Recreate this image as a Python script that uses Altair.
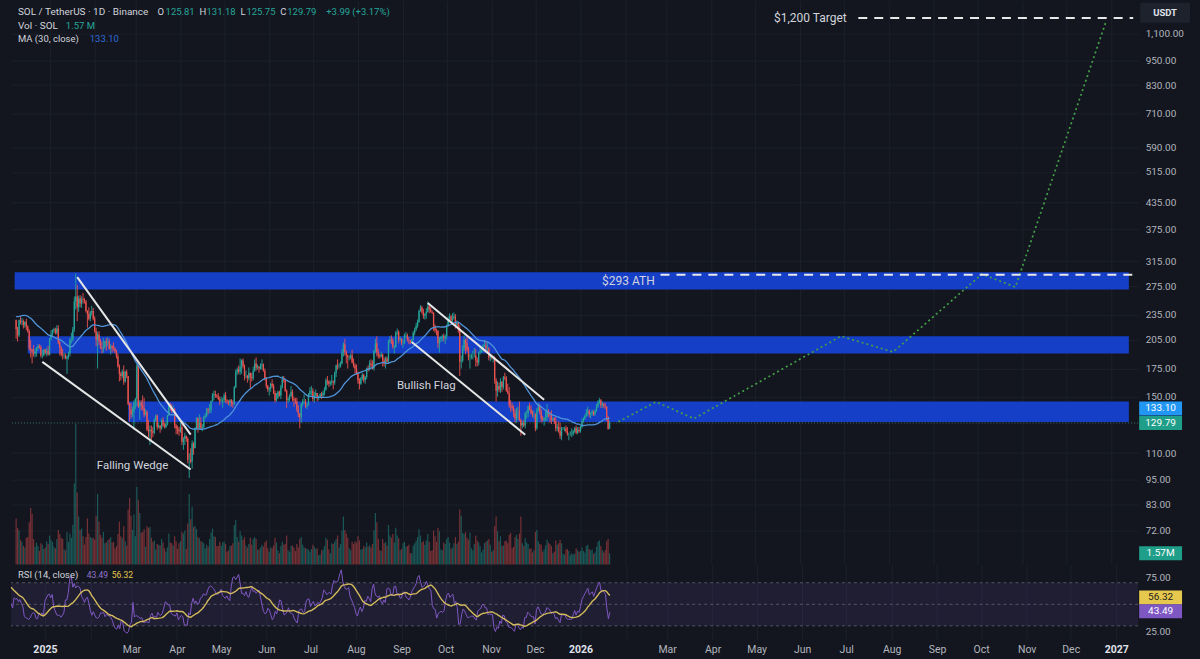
import altair as alt
import pandas as pd
import numpy as np

# ---------------- data ----------------
# closes before the first visible candle (Nov 9 - Dec 8 2024), used only for MA/RSI warm-up
warmup_close = [203, 213, 218, 212, 213, 211, 223, 234, 237, 236, 235, 235, 257, 256, 253, 247, 235, 232, 241, 236,
                238, 242, 236, 224, 226, 236, 237, 240, 236, 228]

# daily candles Dec 9 2024 - Jan 21 2026
close = [
    217, 210, 228, 226, 227, 222, 226, 220, 215, 196, 194, 192, 190, 192, 196, 198, 197, 188, 188, 194, 191, 193, 189,
    206, 211, 216, 217, 213, 218, 202, 196, 189, 188, 188, 185, 187, 190, 205, 205, 217, 253, 260, 245, 257, 250, 256, 255, 253, 240, 236, 230, 238, 240, 230,
    215, 205, 211, 203, 196, 195, 197, 203, 202, 203, 195, 198, 196, 195, 192, 187, 177, 170, 168, 172, 163, 172, 168, 144, 140, 136, 138, 145,
    148, 178, 142, 145, 143, 141, 136, 138, 125, 124, 125, 124, 123, 132, 135, 127, 128, 126, 132, 128, 127, 129, 135, 143, 142, 139, 140, 128, 126, 125, 124,
    127, 117, 119, 121, 119, 106, 106, 105, 116, 113, 126, 133, 126, 130, 126, 127, 134, 135, 140, 139, 139, 146, 151, 152, 151, 150, 148, 146, 146, 147,
    151, 147, 146, 145, 147, 145, 144, 158, 172, 174, 172, 177, 183, 177, 168, 168, 166, 171, 167, 166, 173, 180, 176, 177, 175, 178, 179, 173, 166, 159, 156,
    157, 161, 159, 153, 147, 149, 154, 151, 158, 165, 164, 155, 147, 148, 150, 154, 148, 147, 146, 140, 137, 134, 144, 146, 146, 142, 143, 152, 155, 155,
    148, 151, 153, 149, 150, 152, 151, 153, 156, 164, 163, 161, 162, 163, 162, 171, 178, 177, 177, 180, 191, 200, 192, 188, 186, 186, 188, 181, 178, 175, 171,
    164, 161, 166, 169, 164, 167, 175, 174, 180, 178, 175, 193, 201, 191, 188, 187, 189, 183, 180, 185, 182, 203, 205, 204, 197, 197, 213, 214, 205, 206, 201,
    201, 210, 210, 205, 204, 202, 205, 213, 217, 221, 226, 240, 245, 239, 234, 236, 239, 246, 242, 239, 238, 221, 216, 215, 201, 206, 208, 209, 207, 209,
    221, 230, 233, 228, 231, 233, 222, 225, 217, 182, 183, 196, 205, 201, 194, 186, 186, 188, 188, 188, 183, 181, 191, 193, 194, 199, 199, 195, 195, 186, 187,
    186, 186, 164, 155, 159, 156, 163, 158, 167, 166, 155, 153, 143, 142, 141, 137, 133, 139, 139, 132, 128, 130, 128, 137, 137, 142, 140, 137, 136, 136,
    126, 139, 142, 138, 133, 132, 133, 134, 138, 137, 136, 132, 133, 131, 126, 127, 124, 121, 126, 126, 126, 124, 122, 122, 122, 122, 124, 126, 123, 125, 124,
    127, 131, 133, 135, 137, 139, 136, 137, 138, 136, 139, 142, 145, 147, 143, 144, 143, 142, 134, 125.80, 129.79,
]
high = [
    229, 220, 229, 233, 231, 229, 227, 230, 222, 217, 205, 195, 199, 195, 197, 200, 200, 199, 194, 195, 195, 196, 198,
    207, 216, 217, 219, 219, 222, 222, 204, 198, 195, 191, 190, 188, 192, 207, 213, 220, 260, 295, 277, 261, 262, 260, 265, 258, 255, 241, 245, 240, 247, 244,
    233, 219, 214, 215, 206, 203, 207, 204, 207, 208, 206, 200, 199, 202, 197, 194, 190, 179, 172, 174, 178, 173, 174, 168, 145, 145, 142, 147,
    149, 180, 179, 147, 147, 151, 149, 140, 139, 132, 128, 128, 127, 133, 136, 136, 130, 128, 133, 134, 130, 131, 136, 145, 145, 144, 143, 141, 129, 128, 127,
    130, 131, 120, 123, 121, 120, 110, 113, 118, 117, 127, 134, 134, 136, 134, 129, 135, 137, 141, 141, 144, 147, 153, 155, 155, 152, 153, 150, 150, 149,
    153, 154, 148, 147, 148, 148, 147, 159, 174, 176, 178, 185, 184, 185, 179, 173, 169, 176, 171, 171, 177, 184, 186, 179, 177, 180, 184, 180, 175, 167, 160,
    158, 162, 165, 161, 155, 153, 155, 155, 160, 168, 168, 165, 156, 150, 152, 159, 156, 150, 149, 149, 143, 137, 145, 148, 152, 148, 145, 153, 158, 159,
    157, 154, 156, 153, 151, 153, 154, 155, 158, 166, 168, 164, 164, 169, 164, 172, 179, 184, 180, 182, 195, 202, 206, 193, 189, 188, 190, 194, 185, 180, 179,
    172, 166, 167, 171, 170, 168, 176, 178, 183, 184, 183, 194, 206, 209, 195, 190, 192, 190, 186, 187, 187, 205, 209, 210, 207, 199, 215, 218, 216, 209, 207,
    205, 212, 214, 212, 208, 205, 206, 215, 219, 225, 229, 242, 248, 247, 243, 237, 244, 253, 248, 245, 241, 238, 223, 218, 216, 208, 209, 211, 212, 211,
    223, 233, 237, 235, 237, 238, 236, 228, 226, 222, 188, 199, 210, 206, 209, 197, 190, 190, 193, 196, 195, 186, 192, 197, 195, 200, 205, 204, 202, 197, 190,
    189, 188, 187, 166, 163, 162, 166, 163, 168, 171, 168, 161, 158, 147, 145, 143, 140, 141, 142, 146, 133, 131, 132, 138, 139, 143, 145, 143, 139, 139,
    137, 141, 145, 144, 140, 135, 134, 139, 144, 140, 138, 139, 134, 134, 134, 129, 131, 130, 127, 127, 127, 128, 127, 123, 124, 126, 125, 127, 128, 127, 127,
    128, 133, 134, 136, 140, 142, 140, 138, 140, 139, 140, 144, 147, 149, 148, 146, 145, 145, 142, 135, 131.18,
]
low = [
    206, 203, 208, 223, 222, 218, 219, 216, 213, 193, 186, 180, 187, 186, 187, 193, 195, 186, 185, 187, 189, 187, 188,
    188, 204, 209, 213, 211, 211, 200, 188, 187, 184, 185, 184, 170, 184, 187, 201, 203, 214, 242, 227, 239, 245, 244, 250, 250, 238, 219, 228, 227, 234, 228,
    213, 198, 175, 199, 195, 190, 191, 195, 193, 198, 194, 189, 191, 193, 190, 185, 176, 163, 164, 166, 160, 162, 166, 143, 131, 133, 134, 125,
    140, 142, 141, 132, 139, 139, 134, 135, 124, 120, 115, 118, 120, 122, 131, 125, 126, 123, 125, 127, 126, 126, 128, 135, 139, 137, 137, 126, 122, 122, 121,
    123, 115, 112, 115, 117, 104, 96, 104, 101, 109, 113, 125, 123, 125, 125, 124, 126, 133, 134, 136, 137, 137, 146, 147, 149, 149, 147, 143, 145, 141,
    145, 145, 144, 143, 142, 142, 141, 143, 157, 169, 170, 169, 170, 175, 164, 166, 162, 164, 157, 163, 164, 172, 173, 174, 171, 174, 174, 172, 164, 157, 154,
    151, 154, 157, 152, 145, 146, 148, 150, 148, 157, 162, 154, 141, 145, 146, 150, 146, 142, 144, 138, 134, 126, 130, 142, 144, 141, 140, 143, 150, 151,
    146, 145, 149, 146, 147, 149, 148, 149, 151, 155, 160, 158, 159, 160, 156, 160, 167, 174, 175, 176, 179, 187, 188, 180, 175, 183, 184, 180, 176, 170, 169,
    161, 156, 160, 164, 162, 161, 165, 172, 173, 176, 174, 173, 191, 187, 185, 185, 186, 177, 177, 175, 180, 180, 201, 200, 195, 190, 196, 210, 201, 203, 199,
    196, 200, 207, 203, 200, 200, 201, 204, 210, 215, 219, 225, 239, 236, 230, 229, 230, 238, 237, 238, 236, 215, 213, 210, 196, 191, 202, 203, 203, 200,
    205, 220, 227, 225, 226, 229, 218, 220, 213, 168, 175, 181, 193, 189, 192, 183, 175, 184, 184, 186, 177, 177, 178, 189, 191, 191, 197, 191, 192, 183, 182,
    184, 181, 161, 146, 150, 154, 153, 154, 156, 164, 154, 152, 141, 138, 139, 134, 130, 130, 132, 131, 121, 126, 127, 126, 133, 134, 139, 136, 134, 133,
    124, 125, 138, 136, 130, 131, 128, 131, 131, 134, 130, 129, 131, 129, 124, 124, 123, 119, 118, 125, 124, 123, 121, 118, 121, 120, 121, 123, 122, 122, 123,
    123, 126, 130, 132, 134, 135, 134, 133, 135, 135, 135, 138, 141, 144, 141, 141, 141, 140, 131, 125, 125.75,
]
# volume, millions of SOL
volume = [
    6.5, 5.2, 4.8, 3.5, 3.2, 2.6, 2.4, 3.8, 3.9, 6.0, 8.0, 7.2, 3.6, 2.5, 3.1, 2.6, 1.9, 3.0, 2.8, 2.2, 2.4, 3.3, 2.9,
    4.1, 3.5, 3.2, 2.5, 2.3, 3.6, 4.9, 4.3, 3.8, 3.6, 2.1, 2.0, 4.6, 3.2, 4.4, 3.8, 5.6, 11.5, 20.0, 10.2, 6.8, 4.9, 5.1, 4.0, 2.8, 3.9, 6.5, 4.4, 3.9, 3.7, 3.8,
    3.5, 6.9, 10.0, 6.1, 4.2, 3.8, 4.6, 3.0, 3.1, 3.4, 3.6, 3.9, 3.1, 3.2, 2.3, 2.6, 4.3, 6.1, 4.0, 3.7, 5.4, 3.3, 2.7, 7.8, 9.4, 6.9, 4.9, 7.1,
    4.0, 11.0, 9.1, 7.3, 4.5, 4.6, 5.0, 2.5, 5.4, 5.2, 5.3, 3.8, 3.2, 3.4, 2.1, 2.9, 2.8, 2.7, 3.6, 3.1, 2.3, 1.8, 2.4, 4.4, 3.1, 3.0, 2.7, 4.0, 3.3, 2.2, 3.0,
    3.3, 4.6, 4.4, 4.8, 2.2, 5.8, 10.0, 6.4, 8.2, 5.3, 5.5, 5.0, 3.9, 3.7, 3.3, 3.2, 3.0, 2.3, 2.8, 2.5, 3.6, 4.5, 5.1, 4.0, 3.9, 2.6, 2.6, 3.2, 2.7, 3.1,
    3.2, 2.9, 1.8, 2.0, 2.6, 2.7, 3.0, 5.6, 6.3, 3.9, 3.2, 4.7, 4.1, 3.5, 3.9, 2.7, 2.4, 2.9, 3.8, 2.8, 3.6, 3.9, 3.6, 2.1, 2.1, 2.4, 2.8, 2.5, 3.1, 3.4, 2.3,
    1.8, 2.4, 2.3, 2.7, 3.8, 3.1, 2.0, 1.6, 2.6, 3.2, 2.8, 2.9, 4.1, 2.0, 1.8, 2.6, 2.7, 2.4, 1.9, 2.9, 2.4, 3.6, 3.9, 2.8, 2.4, 2.3, 2.2, 2.1, 1.8, 2.2,
    2.8, 2.5, 2.2, 2.3, 1.3, 1.4, 2.0, 2.1, 2.6, 3.8, 3.5, 2.1, 1.6, 3.0, 2.9, 3.2, 3.6, 4.1, 2.4, 2.9, 4.8, 6.8, 4.9, 4.4, 3.8, 2.3, 2.0, 3.2, 2.9, 3.3, 3.1,
    4.0, 3.4, 2.1, 2.2, 2.6, 2.4, 3.1, 2.5, 2.7, 2.4, 2.9, 4.8, 7.3, 6.0, 3.6, 2.0, 1.9, 3.6, 3.0, 3.2, 2.7, 5.6, 4.1, 3.8, 4.3, 3.1, 5.2, 4.1, 3.7, 2.0, 2.2,
    3.0, 3.2, 2.5, 2.6, 2.8, 1.6, 1.6, 2.7, 3.0, 3.4, 3.9, 5.0, 4.1, 3.1, 3.3, 2.8, 3.4, 4.3, 3.2, 1.9, 2.0, 4.8, 4.0, 3.2, 5.2, 4.7, 2.1, 2.0, 3.1, 2.9,
    3.6, 3.9, 3.1, 2.2, 2.4, 3.0, 3.9, 2.9, 3.2, 7.8, 6.9, 4.5, 4.3, 4.6, 3.8, 3.5, 4.5, 2.3, 2.0, 2.9, 4.1, 3.4, 3.1, 2.6, 1.7, 2.1, 3.0, 3.2, 3.4, 3.6, 2.8,
    1.8, 2.0, 5.4, 6.8, 4.7, 3.3, 4.0, 2.6, 2.7, 3.3, 3.4, 3.0, 4.2, 4.5, 2.3, 2.5, 3.9, 4.2, 3.6, 4.4, 6.8, 3.0, 2.6, 3.7, 3.1, 2.9, 2.2, 2.3, 1.7, 2.0,
    4.6, 4.9, 3.3, 2.9, 2.8, 1.8, 2.1, 2.7, 3.5, 3.1, 2.9, 2.6, 1.6, 1.8, 3.4, 2.8, 3.0, 3.5, 3.0, 1.5, 1.4, 2.1, 2.2, 1.9, 1.3, 1.6, 1.4, 1.5, 2.3, 2.0, 1.8,
    1.9, 2.4, 1.9, 1.7, 2.6, 2.8, 2.2, 2.0, 2.1, 1.5, 1.7, 2.5, 3.2, 3.4, 2.6, 2.0, 1.7, 2.0, 3.3, 3.6, 1.57,
]
last_open = 125.81
last_close = 129.79
last_ma = 133.10
last_vol = 1.57
last_rsi = 43.49
last_rsi_ma = 56.32

# horizontal zones
band_start = ["2024-12-08", "2024-12-17", "2025-02-24"]
band_end = ["2027-01-13", "2027-01-13", "2027-01-13"]
band_low = [270, 190, 130.5]
band_high = [297, 209, 146]

# pattern trend lines
tl_start = ["2025-01-20", "2024-12-27", "2025-09-18", "2025-09-07"]
tl_start_price = [289, 181.5, 250.8, 202.5]
tl_end = ["2025-04-08", "2025-04-08", "2025-12-07", "2025-11-24"]
tl_end_price = [121.7, 100.5, 147.4, 121.7]

pattern_label = ["Falling Wedge", "Bullish Flag"]
pattern_date = ["2025-02-27", "2025-09-17"]
pattern_price = [102.7, 159]

# projected path
proj_date = ["2026-01-27", "2026-02-22", "2026-03-20", "2026-06-29", "2026-08-04", "2026-10-04", "2026-10-27", "2026-12-28"]
proj_price = [130.7, 145.8, 132.9, 209, 191.7, 294, 273.7, 1168]

# dashed levels
level_price = [293, 1200]
level_start = ["2026-02-25", "2026-07-11"]
level_end = ["2027-01-16", "2027-01-16"]
level_label = ["$293 ATH", "$1,200 Target"]
level_label_date = ["2026-02-21", "2026-07-03"]
level_label_price = [283, 1200]

price_ticks = [72, 83, 95, 110, 150, 175, 205, 235, 275, 315, 375, 435, 515, 590, 710, 830, 950, 1100]
rsi_ticks = [25, 75]
rsi_levels = [70, 50, 30]

# ---------------- style ----------------
BG = "#13161f"
GRID = "#1c202b"
FONT = "Roboto"
TXT = "#d1d4dc"
AXT = "#b2b5be"
GREEN = "#26a69a"
RED = "#ef5350"
BAND = "#163fc8"
MA_C = "#4f94d8"
RSI_C = "#7e57c2"
RSIMA_C = "#d4bb5c"

W, H_TOP, H_RSI = 1130, 565, 75

# ---------------- frames ----------------
n = len(close)
dates = pd.date_range("2024-12-09", periods=n, freq="D").strftime("%Y-%m-%d")
opens = [warmup_close[-1]] + close[:-1]
opens[-1] = last_open
df = pd.DataFrame({"date": dates, "open": opens, "close": close, "high": high, "low": low, "vol": volume})
df["high"] = df[["high", "open", "close"]].max(axis=1)
df["low"] = df[["low", "open", "close"]].min(axis=1)
df["dir"] = np.where(df["close"] >= df["open"], "up", "down")

allc = pd.Series(warmup_close + close, dtype=float)
ma30 = allc.rolling(30).mean()
delta = allc.diff()
gain = delta.clip(lower=0)
loss = (-delta).clip(lower=0)
rs = gain.ewm(alpha=1 / 14, adjust=False).mean() / loss.ewm(alpha=1 / 14, adjust=False).mean()
rsi = 100 - 100 / (1 + rs)
rsi_ma = rsi.rolling(14).mean()
df["ma"] = ma30.iloc[-n:].to_numpy()
df["rsi"] = rsi.iloc[-n:].to_numpy()
df["rsi_ma"] = rsi_ma.iloc[-n:].to_numpy()

bands_df = pd.DataFrame({"start": band_start, "end": band_end, "lo": band_low, "hi": band_high})
tl_df = pd.DataFrame({"x1": tl_start, "y1": tl_start_price, "x2": tl_end, "y2": tl_end_price})
pat_df = pd.DataFrame({"t": pattern_label, "d": pattern_date, "p": pattern_price})
proj_df = pd.DataFrame({"d": proj_date, "p": proj_price})
lvl_df = pd.DataFrame({"s": level_start, "e": level_end, "p": level_price})
lvl_lab_df = pd.DataFrame({"t": level_label, "d": level_label_date, "p": level_label_price})


def ms(s):
    return int(pd.Timestamp(s, tz="UTC").value // 10**6)


DAY = 86400000
x_domain = [ms("2025-01-01") - int(23.11 * DAY), ms("2025-01-01") + int(744.97 * DAY)]
month_ticks = [ms(d) for d in pd.date_range("2025-01-01", "2027-01-01", freq="MS").strftime("%Y-%m-%d")]

xscale = alt.Scale(type="utc", domain=x_domain)
pscale = alt.Scale(type="log", domain=[59.7, 1318], nice=False, zero=False)
vscale = alt.Scale(domain=[0, 80], nice=False, zero=True)
rscale = alt.Scale(domain=[17.6, 87.0], nice=False, zero=False)
dir_scale = alt.Scale(domain=["up", "down"], range=[GREEN, RED])

grid_x = alt.Axis(values=month_ticks, grid=True, gridColor=GRID, labels=False, ticks=False, domain=False, title=None)
price_axis = alt.Axis(orient="right", values=price_ticks, format=",.2f", grid=True, gridColor=GRID, ticks=False,
                      domain=False, labelColor=AXT, labelFont=FONT, labelFontSize=10, labelPadding=7,
                      labelOverlap=False, title=None)
rsi_axis = alt.Axis(orient="right", values=rsi_ticks, format=".2f", grid=False, ticks=False, domain=False,
                    labelColor=AXT, labelFont=FONT, labelFontSize=10, labelPadding=7, labelOverlap=False, title=None)
is_year = "utcmonth(datum.value) == 0"
time_axis = alt.Axis(
    values=month_ticks, grid=True, gridColor=GRID, ticks=False, domain=False, title=None,
    labelExpr="utcmonth(datum.value) == 1 ? '' : (utcmonth(datum.value) == 0 ? utcFormat(datum.value, '%Y') : utcFormat(datum.value, '%b'))",
    labelColor={"condition": {"test": is_year, "value": "#e0e3eb"}, "value": AXT},
    labelFontWeight={"condition": {"test": is_year, "value": "bold"}, "value": "normal"},
    labelFont=FONT, labelFontSize=10.5, labelPadding=5, labelOverlap=False, labelFlush=False,
)

BADGE = "M-1,-0.3256H1V0.3256H-1Z"
BADGE_X = 1152.5


def txt(t, x, y, color, size=9.5, weight="normal", align="left"):
    return alt.Chart(pd.DataFrame({"t": [t]})).mark_text(
        align=align, baseline="middle", font=FONT, fontSize=size, fontWeight=weight, color=color
    ).encode(x=alt.value(x), y=alt.value(y), text="t:N")


def badge(value, color, tcolor, scale, label, dy=0):
    d = pd.DataFrame({"v": [value], "t": [label]})
    pt = alt.Chart(d).mark_point(shape=BADGE, filled=True, size=1849, color=color, opacity=1, yOffset=dy).encode(
        x=alt.value(BADGE_X), y=alt.Y("v:Q", scale=scale))
    tx = alt.Chart(d).mark_text(font=FONT, fontSize=10, color=tcolor, align="center", baseline="middle", dy=dy).encode(
        x=alt.value(BADGE_X), y=alt.Y("v:Q", scale=scale), text="t:N")
    return [pt, tx]


base = alt.Chart(df)
Xd = alt.X("date:T", scale=xscale)
col = alt.Color("dir:N", scale=dir_scale, legend=None)

# ---------------- volume group (own y scale, no axis) ----------------
vol = base.mark_bar(width=1.2, opacity=0.45).encode(x=Xd, y=alt.Y("vol:Q", scale=vscale, axis=None), color=col)
vd = pd.DataFrame({"v": [last_vol], "t": ["1.57M"]})
vol_pt = alt.Chart(vd).mark_point(shape=BADGE, filled=True, size=1849, color="#1f9e89", opacity=1).encode(
    x=alt.value(BADGE_X), y=alt.Y("v:Q", scale=vscale, axis=None))
vol_tx = alt.Chart(vd).mark_text(font=FONT, fontSize=10, color="#ffffff", align="center", baseline="middle").encode(
    x=alt.value(BADGE_X), y=alt.Y("v:Q", scale=vscale, axis=None), text="t:N")
vol_group = alt.layer(vol, vol_pt, vol_tx)

# ---------------- price group ----------------
bands = alt.Chart(bands_df).mark_rect(color=BAND, clip=True).encode(
    x=alt.X("start:T", scale=xscale, axis=grid_x), x2="end:T",
    y=alt.Y("lo:Q", scale=pscale, axis=price_axis), y2="hi:Q")
price_line = alt.Chart(pd.DataFrame({"v": [last_close]})).mark_rule(color="#3a6f6a", strokeDash=[1, 2], strokeWidth=1).encode(
    y=alt.Y("v:Q", scale=pscale))
wicks = base.mark_rule(strokeWidth=0.9).encode(x=Xd, y=alt.Y("low:Q", scale=pscale), y2="high:Q", color=col)
bodies = base.mark_bar(width=1.3).encode(x=Xd, y=alt.Y("open:Q", scale=pscale), y2="close:Q", color=col)
ma_line = base.mark_line(color=MA_C, strokeWidth=1.3).encode(x=Xd, y=alt.Y("ma:Q", scale=pscale))
tlines = alt.Chart(tl_df).mark_rule(color="#e6e6e6", strokeWidth=2).encode(
    x=alt.X("x1:T", scale=xscale), x2="x2:T",
    y=alt.Y("y1:Q", scale=pscale), y2="y2:Q")
proj = alt.Chart(proj_df).mark_line(color="#43a047", strokeWidth=1.7, strokeDash=[2, 3]).encode(
    x=alt.X("d:T", scale=xscale), y=alt.Y("p:Q", scale=pscale))
levels = alt.Chart(lvl_df).mark_rule(color="#e8e8e8", strokeWidth=2, strokeDash=[9, 7], clip=True).encode(
    x=alt.X("s:T", scale=xscale), x2="e:T", y=alt.Y("p:Q", scale=pscale))
pat_text = alt.Chart(pat_df).mark_text(font=FONT, fontSize=11.5, color=TXT, align="center", baseline="middle").encode(
    x=alt.X("d:T", scale=xscale), y=alt.Y("p:Q", scale=pscale), text="t:N")
lvl_text = alt.Chart(lvl_lab_df).mark_text(font=FONT, fontSize=12, color=TXT, align="right", baseline="middle").encode(
    x=alt.X("d:T", scale=xscale), y=alt.Y("p:Q", scale=pscale), text="t:N")

header = [
    txt("SOL / TetherUS · 1D · Binance", 7, 11.5, TXT, size=10),
    txt("O", 147, 11.5, TXT), txt("125.81", 155, 11.5, GREEN),
    txt("H", 189, 11.5, TXT), txt("131.18", 196, 11.5, GREEN),
    txt("L", 230, 11.5, TXT), txt("125.75", 236, 11.5, GREEN),
    txt("C", 270, 11.5, TXT), txt("129.79", 277, 11.5, GREEN),
    txt("+3.99 (+3.17%)", 316, 11.5, GREEN),
    txt("Vol · SOL", 7, 25, TXT, size=10), txt("1.57 M", 55, 25, GREEN),
    txt("MA (30, close)", 7, 38, TXT), txt("133.10", 79, 38, "#2f6ad8"),
]
usdt_box = alt.Chart(pd.DataFrame({"t": ["USDT"]})).mark_point(
    shape="M-1,-0.4H1V0.4H-1Z", filled=True, size=2500, color="#1e222d", opacity=1).encode(
    x=alt.value(1157), y=alt.value(12))
usdt_txt = txt("USDT", 1157, 12, "#e0e3eb", size=9.5, weight="bold", align="center")

price_group = alt.layer(
    bands, price_line, wicks, bodies, ma_line, tlines, proj, levels, pat_text, lvl_text,
    *badge(last_ma, "#2196f3", "#ffffff", pscale, "133.10", dy=-10),
    *badge(last_close, "#1f9e89", "#ffffff", pscale, "129.79"),
    *header, usdt_box, usdt_txt,
)

top = alt.layer(vol_group, price_group).resolve_scale(y="independent").properties(width=W, height=H_TOP)

# ---------------- RSI pane ----------------
rsi_band = alt.Chart(pd.DataFrame({"lo": [30], "hi": [70]})).mark_rect(color=RSI_C, opacity=0.12).encode(
    x=alt.value(0), x2=alt.value("width"), y=alt.Y("lo:Q", scale=rscale, axis=rsi_axis), y2="hi:Q")
rsi_rules = alt.Chart(pd.DataFrame({"lev": rsi_levels})).mark_rule(color="#787b86", strokeDash=[3, 3], opacity=0.6).encode(
    y=alt.Y("lev:Q", scale=rscale))
rsi_line = base.mark_line(color=RSI_C, strokeWidth=1).encode(
    x=alt.X("date:T", scale=xscale, axis=time_axis), y=alt.Y("rsi:Q", scale=rscale))
rsi_ma_line = base.mark_line(color=RSIMA_C, strokeWidth=1.4).encode(
    x=alt.X("date:T", scale=xscale), y=alt.Y("rsi_ma:Q", scale=rscale))
rsi_header = [
    txt("RSI (14, close)", 7, 10.5, TXT),
    txt("43.49", 76, 10.5, "#9575cd", size=8.5),
    txt("56.32", 101, 10.5, "#e6c84f", size=8.5),
]
rsi_chart = alt.layer(
    rsi_band, rsi_rules, rsi_line, rsi_ma_line,
    *badge(last_rsi_ma, "#e6c84f", "#1b1b1b", rscale, "56.32"),
    *badge(last_rsi, "#7e57c2", "#ffffff", rscale, "43.49"),
    *rsi_header,
).properties(width=W, height=H_RSI)

chart = alt.vconcat(top, rsi_chart, spacing=0).properties(
    background=BG, padding={"left": 8, "top": 0, "right": 10, "bottom": 3}
).configure(font=FONT).configure_view(stroke=None)

chart.save("out.html", embed_options={"renderer": "svg", "actions": False})
